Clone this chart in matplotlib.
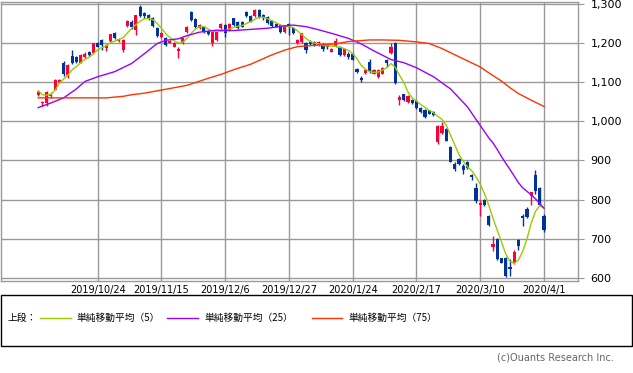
import numpy as np
import matplotlib.pyplot as plt
from matplotlib.patches import Rectangle
from matplotlib.lines import Line2D

plt.rcParams['font.family'] = ['DejaVu Sans']

# daily candles, 2019/10/2 .. 2020/4/1 (trading days)
opens = [1068, 1046, 1047, 1065, 1081, 1100, 1150, 1118, 1168, 1165,
         1150, 1165, 1176, 1174, 1201, 1207, 1187, 1206, 1225, 1206,
         1182, 1244, 1255, 1233, 1291, 1276, 1272, 1263, 1238, 1216,
         1212, 1201, 1191, 1180, 1199, 1229, 1280, 1262, 1238, 1240,
         1231, 1199, 1208, 1238, 1246, 1233, 1263, 1253, 1255, 1280,
         1269, 1268, 1284, 1272, 1266, 1257, 1249, 1246, 1229, 1248,
         1238, 1199, 1203, 1201, 1203, 1203, 1195, 1197, 1195, 1178,
         1192, 1190, 1170, 1172, 1172, 1135, 1112, 1124, 1152, 1122,
         1114, 1122, 1156, 1175, 1199, 1054, 1069, 1050, 1054, 1052,
         1033, 1030, 1028, 1024, 947, 970, 981, 934, 891, 904,
         887, 897, 862, 830, 787, 800, 759, 678, 699, 650,
         652, 628, 639, 697, 757, 776, 808, 862, 830, 759]
highs = [1080, 1053, 1077, 1076, 1107, 1108, 1153, 1146, 1182, 1168,
         1171, 1178, 1179, 1201, 1204, 1210, 1197, 1224, 1228, 1213,
         1210, 1258, 1258, 1273, 1297, 1280, 1275, 1266, 1240, 1229,
         1215, 1207, 1203, 1190, 1213, 1243, 1283, 1264, 1249, 1244,
         1233, 1230, 1230, 1251, 1248, 1252, 1265, 1256, 1257, 1282,
         1271, 1286, 1286, 1275, 1268, 1259, 1251, 1248, 1246, 1251,
         1240, 1211, 1227, 1203, 1208, 1206, 1205, 1199, 1198, 1188,
         1212, 1193, 1187, 1176, 1175, 1137, 1116, 1134, 1160, 1134,
         1133, 1139, 1160, 1199, 1203, 1067, 1071, 1067, 1056, 1054,
         1037, 1032, 1030, 1026, 990, 998, 983, 936, 895, 906,
         891, 899, 866, 842, 799, 802, 761, 708, 701, 652,
         654, 648, 672, 699, 763, 780, 819, 876, 833, 762]
lows = [1064, 1040, 1040, 1060, 1079, 1097, 1115, 1110, 1146, 1148,
        1148, 1163, 1166, 1172, 1189, 1182, 1180, 1204, 1210, 1204,
        1178, 1242, 1236, 1220, 1266, 1265, 1259, 1242, 1216, 1214,
        1193, 1199, 1189, 1163, 1197, 1227, 1257, 1238, 1236, 1226,
        1220, 1192, 1206, 1236, 1216, 1232, 1244, 1237, 1240, 1267,
        1253, 1266, 1264, 1260, 1250, 1242, 1240, 1227, 1227, 1220,
        1223, 1197, 1201, 1175, 1194, 1193, 1193, 1180, 1186, 1176,
        1190, 1167, 1167, 1160, 1156, 1124, 1100, 1122, 1124, 1120,
        1112, 1120, 1140, 1173, 1096, 1041, 1052, 1048, 1045, 1031,
        1021, 1009, 1018, 1014, 943, 968, 949, 895, 874, 888,
        866, 879, 849, 792, 759, 784, 733, 669, 645, 637,
        603, 605, 636, 670, 733, 754, 785, 815, 783, 718]
closes = [1075, 1049, 1075, 1071, 1105, 1105, 1121, 1144, 1149, 1151,
          1169, 1171, 1170, 1199, 1191, 1196, 1195, 1222, 1213, 1211,
          1208, 1256, 1242, 1272, 1268, 1268, 1261, 1244, 1218, 1225,
          1195, 1205, 1201, 1186, 1212, 1242, 1259, 1240, 1246, 1229,
          1222, 1229, 1229, 1249, 1226, 1250, 1246, 1239, 1242, 1269,
          1255, 1285, 1266, 1264, 1252, 1244, 1242, 1229, 1244, 1244,
          1225, 1209, 1225, 1182, 1197, 1195, 1203, 1185, 1189, 1186,
          1206, 1170, 1184, 1165, 1158, 1126, 1105, 1132, 1128, 1132,
          1131, 1137, 1148, 1191, 1098, 1061, 1054, 1064, 1047, 1033,
          1024, 1011, 1020, 1017, 987, 987, 951, 897, 877, 890,
          876, 881, 857, 797, 791, 786, 736, 686, 648, 639,
          605, 622, 665, 682, 753, 756, 819, 823, 785, 723]

# moving averages
ma5 = [1078, 1068, 1067, 1069, 1080, 1098, 1108, 1118, 1132, 1140,
       1150, 1158, 1164, 1173, 1183, 1188, 1193, 1201, 1205, 1209,
       1214, 1226, 1238, 1247, 1256, 1262, 1263, 1260, 1250, 1238,
       1224, 1214, 1206, 1200, 1202, 1212, 1225, 1236, 1242, 1242,
       1236, 1231, 1230, 1230, 1232, 1236, 1240, 1243, 1245, 1250,
       1255, 1261, 1266, 1266, 1262, 1257, 1252, 1246, 1243, 1242,
       1240, 1231, 1222, 1212, 1204, 1200, 1198, 1194, 1193, 1192,
       1192, 1189, 1186, 1181, 1173, 1160, 1143, 1133, 1127, 1125,
       1126, 1131, 1137, 1148, 1138, 1118, 1100, 1075, 1060, 1052,
       1043, 1036, 1028, 1022, 1013, 1005, 990, 965, 940, 915,
       898, 884, 874, 858, 840, 815, 786, 752, 722, 692,
       661, 642, 637, 646, 668, 700, 740, 770, 785, 778]
ma25_idx = [0, 3, 6, 9, 11, 14, 18, 22, 25, 28, 30, 33, 35, 38, 42, 46, 50,
            54, 58, 60, 63, 66, 69, 73, 76, 79, 83, 86, 89, 93, 97, 101,
            103, 106, 107, 108, 109, 110, 111, 112, 113, 114, 115, 116,
            117, 118, 119]
ma25_val = [1035, 1047, 1060, 1083, 1102, 1114, 1127, 1148, 1173, 1199,
            1207, 1211, 1219, 1228, 1233, 1232, 1235, 1238, 1244, 1246,
            1242, 1234, 1225, 1212, 1198, 1180, 1158, 1150, 1137, 1114,
            1083, 1037, 1005, 958, 945, 928, 910, 893, 877, 860, 843,
            830, 821, 812, 802, 790, 778]
ma75_idx = [0, 16, 20, 22, 25, 30, 35, 40, 43, 46, 50, 55, 58, 61, 66, 70,
            73, 78, 81, 85, 89, 92, 95, 99, 104, 106, 109, 111, 113, 116,
            119]
ma75_val = [1060, 1060, 1064, 1068, 1072, 1082, 1092, 1110, 1120, 1132,
            1146, 1170, 1182, 1191, 1195, 1198, 1204, 1208, 1208, 1207,
            1203, 1199, 1186, 1165, 1139, 1124, 1103, 1086, 1071, 1054,
            1038]

tick_idx = [14, 29, 44, 59, 74, 89, 104, 119]
tick_labels = ['2019/10/24', '2019/11/15', '2019/12/6', '2019/12/27',
               '2020/1/24', '2020/2/17', '2020/3/10', '2020/4/1']
y_ticks = [600, 700, 800, 900, 1000, 1100, 1200, 1300]

RED = '#ff0033'
BLUE = '#003399'
GRID = '#999999'

W, H = 633, 373
fig = plt.figure(figsize=(W / 100, H / 100), dpi=100)
ax = fig.add_axes([1 / W, 1 - 281 / H, 577 / W, 279 / H])

o = np.array(opens)
c = np.array(closes)
x = np.arange(len(c))
cols = np.where(c >= o, RED, BLUE)

ax.vlines(x, lows, highs, colors=cols, lw=1, zorder=3)
body = np.maximum(np.abs(c - o), 1.5)
ax.bar(x, body, bottom=np.minimum(o, c), width=0.72, color=cols,
       linewidth=0, zorder=3)

ax.plot(x, ma5, color='#99cc00', lw=1, zorder=4)
ax.plot(ma25_idx, ma25_val, color='#9900ff', lw=1, zorder=4)
ax.plot(ma75_idx, ma75_val, color='#ff3300', lw=1, zorder=4)

ax.set_xlim(-8.75, 127.0)
ax.set_ylim(592, 1305)
ax.set_xticks(tick_idx)
ax.set_xticklabels(tick_labels, fontsize=7)
ax.set_yticks(y_ticks)
ax.set_yticklabels([f'{v:,}' for v in y_ticks], fontsize=8)
ax.yaxis.tick_right()
ax.tick_params(axis='y', length=4, color=GRID, pad=5)
ax.tick_params(axis='x', length=0, pad=3)
ax.grid(True, color=GRID, lw=1)
ax.set_axisbelow(True)
for s in ax.spines.values():
    s.set_color(GRID)
    s.set_linewidth(1)

# legend box under the chart
fig.add_artist(Rectangle((0.5 / W, 1 - 346 / H), 631 / W, 51 / H,
                         transform=fig.transFigure, fill=False,
                         ec='black', lw=1))
ly = 1 - 318 / H
jp = ['Noto Sans CJK JP', 'DejaVu Sans']
fig.text(8 / W, ly, '上段：', fontsize=7, family=jp, va='center')
items = [(40, 71, 76, '#99cc00', '単純移動平均（5）'),
         (167, 198, 204, '#9900ff', '単純移動平均（25）'),
         (312, 342, 348, '#ff3300', '単純移動平均（75）')]
for x0, x1, tx, col, lab in items:
    fig.add_artist(Line2D([x0 / W, x1 / W], [ly, ly], color=col, lw=1,
                          transform=fig.transFigure))
    fig.text(tx / W, ly, lab, fontsize=7, family=jp, va='center')

fig.text(614 / W, 1 - 358 / H, '(c)Ouants Research Inc.', fontsize=7,
         color='#666666', ha='right', va='center')

fig.savefig('out.png', dpi=100)
